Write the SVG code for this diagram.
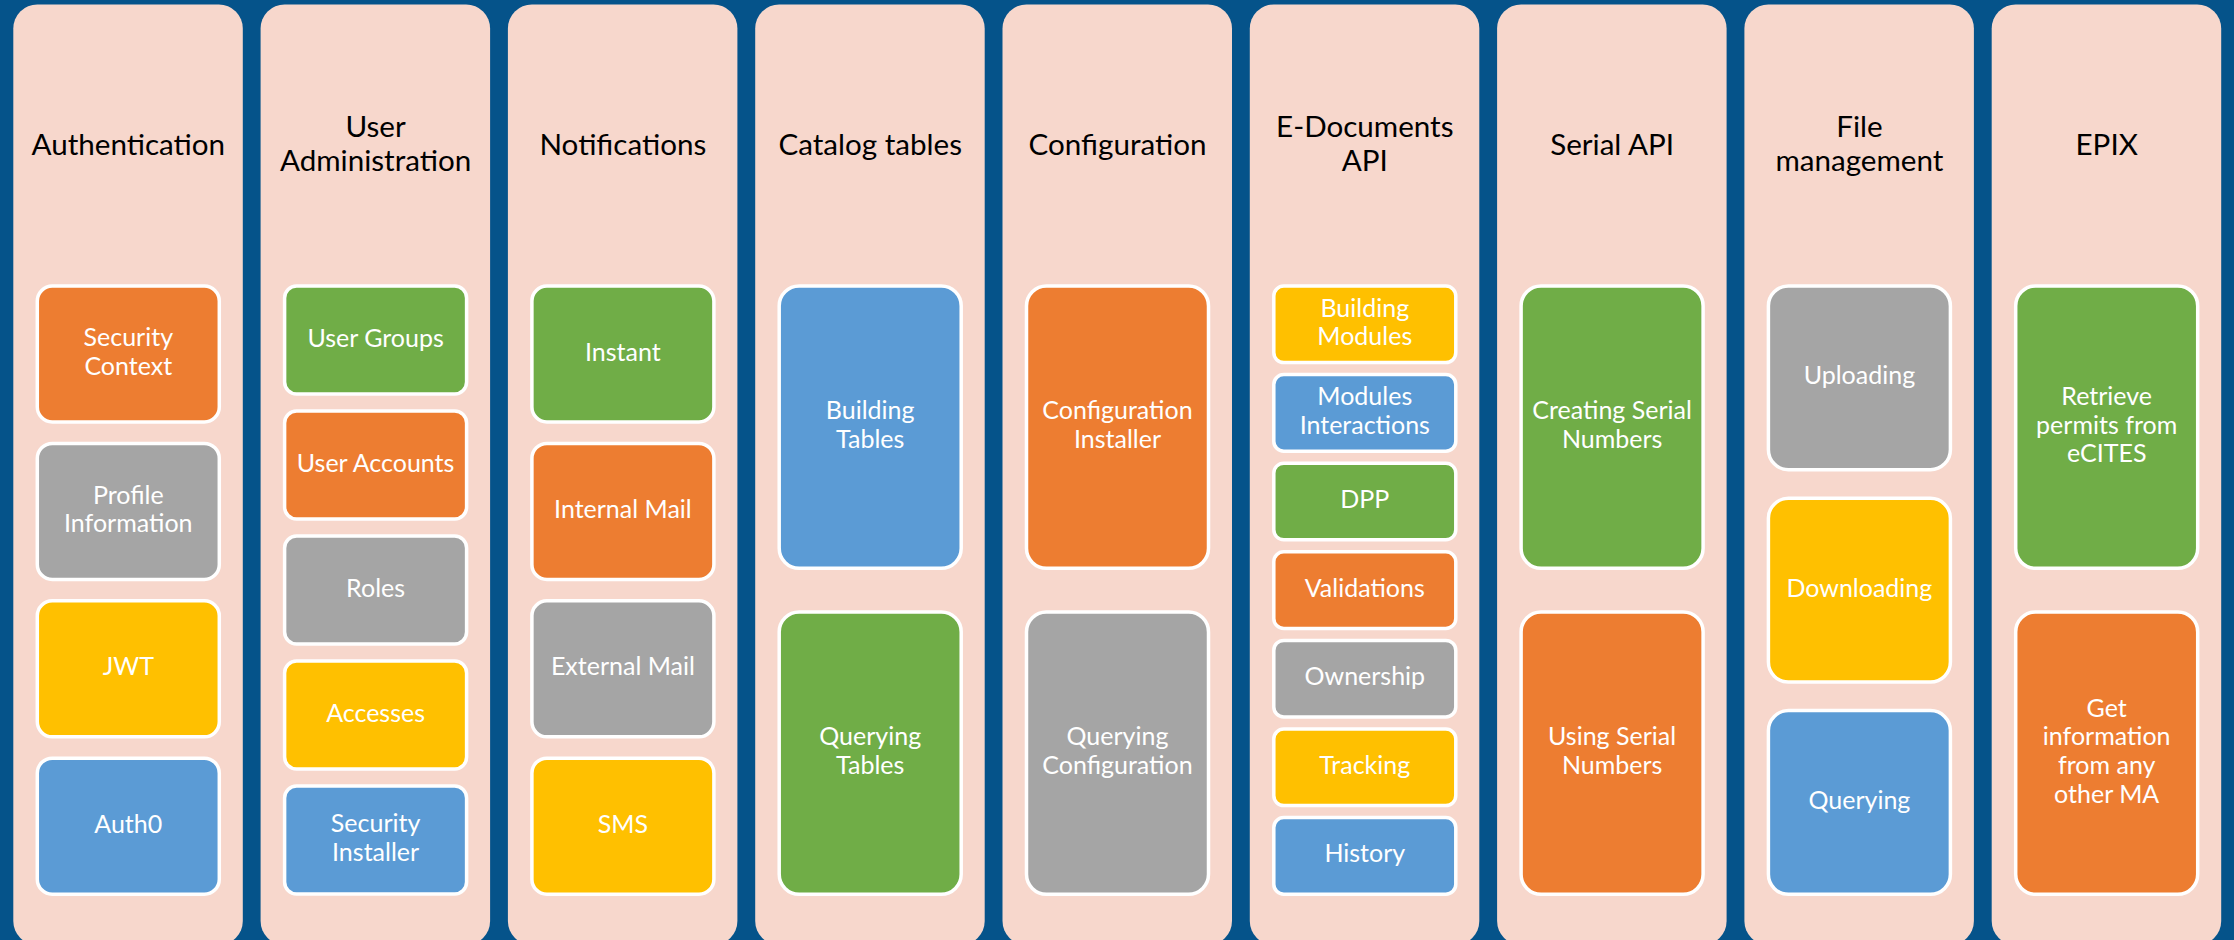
<svg xmlns="http://www.w3.org/2000/svg" width="2234" height="940" viewBox="0 0 2234 940">
<style>
.bg{fill:#05538A}
.col{fill:#F7D7CC}
.hd{font-family:Lato,"Open Sans",sans-serif;font-size:29.6px;fill:#000;text-anchor:middle}
.bx{stroke:#FFFFFF;stroke-width:3.5}
.bt{font-family:Lato,"Open Sans",sans-serif;font-size:25px;fill:#FFFFFF;text-anchor:middle}
.or{fill:#ED7D31}.gy{fill:#A5A5A5}.ye{fill:#FFC000}.bl{fill:#5B9BD5}.gr{fill:#70AD47}
</style>
<rect class="bg" x="0" y="0" width="2234" height="940"/>
<g id="connectors"/>

<g id="col-authentication">
<rect class="col" x="13.3" y="4.5" width="229.5" height="940.5" rx="24"/>
<text class="hd" x="128.3" y="155">Authentication</text>
</g>
<g id="n-security-context"><rect class="bx or" x="37.3" y="286" width="182" height="136" rx="15"/><text class="bt"><tspan x="128.3" y="346.2">Security</tspan><tspan x="128.3" y="374.9">Context</tspan></text></g>
<g id="n-profile-information"><rect class="bx gy" x="37.3" y="443.4" width="182" height="136" rx="15"/><text class="bt"><tspan x="128.3" y="503.5">Profile</tspan><tspan x="128.3" y="532.3">Information</tspan></text></g>
<g id="n-jwt"><rect class="bx ye" x="37.3" y="600.8" width="182" height="136" rx="15"/><text class="bt" x="128.3" y="675.3">JWT</text></g>
<g id="n-auth0"><rect class="bx bl" x="37.3" y="758.2" width="182" height="136" rx="15"/><text class="bt" x="128.3" y="832.7">Auth0</text></g>

<g id="col-user-administration">
<rect class="col" x="260.6" y="4.5" width="229.5" height="940.5" rx="24"/>
<text class="hd"><tspan x="375.6" y="136.7">User</tspan><tspan x="375.6" y="170.7">Administration</tspan></text>
</g>
<g id="n-user-groups"><rect class="bx gr" x="284.6" y="286" width="182" height="108" rx="12"/><text class="bt" x="375.6" y="346.5">User Groups</text></g>
<g id="n-user-accounts"><rect class="bx or" x="284.6" y="411" width="182" height="108" rx="12"/><text class="bt" x="375.6" y="471.5">User Accounts</text></g>
<g id="n-roles"><rect class="bx gy" x="284.6" y="536" width="182" height="108" rx="12"/><text class="bt" x="375.6" y="596.5">Roles</text></g>
<g id="n-accesses"><rect class="bx ye" x="284.6" y="661" width="182" height="108" rx="12"/><text class="bt" x="375.6" y="721.5">Accesses</text></g>
<g id="n-security-installer"><rect class="bx bl" x="284.6" y="786" width="182" height="108" rx="12"/><text class="bt"><tspan x="375.6" y="832.2">Security</tspan><tspan x="375.6" y="860.9">Installer</tspan></text></g>

<g id="col-notifications">
<rect class="col" x="507.9" y="4.5" width="229.5" height="940.5" rx="24"/>
<text class="hd" x="622.9" y="155">Notifications</text>
</g>
<g id="n-instant"><rect class="bx gr" x="531.9" y="286" width="182" height="136" rx="15"/><text class="bt" x="622.9" y="360.5">Instant</text></g>
<g id="n-internal-mail"><rect class="bx or" x="531.9" y="443.4" width="182" height="136" rx="15"/><text class="bt" x="622.9" y="517.9">Internal Mail</text></g>
<g id="n-external-mail"><rect class="bx gy" x="531.9" y="600.8" width="182" height="136" rx="15"/><text class="bt" x="622.9" y="675.3">External Mail</text></g>
<g id="n-sms"><rect class="bx ye" x="531.9" y="758.2" width="182" height="136" rx="15"/><text class="bt" x="622.9" y="832.7">SMS</text></g>

<g id="col-catalog-tables">
<rect class="col" x="755.2" y="4.5" width="229.5" height="940.5" rx="24"/>
<text class="hd" x="870.2" y="155">Catalog tables</text>
</g>
<g id="n-building-tables"><rect class="bx bl" x="779.2" y="286" width="182" height="282.3" rx="20"/><text class="bt"><tspan x="870.2" y="419.3">Building</tspan><tspan x="870.2" y="448">Tables</tspan></text></g>
<g id="n-querying-tables"><rect class="bx gr" x="779.2" y="612" width="182" height="282.3" rx="20"/><text class="bt"><tspan x="870.2" y="745.3">Querying</tspan><tspan x="870.2" y="774">Tables</tspan></text></g>

<g id="col-configuration">
<rect class="col" x="1002.5" y="4.5" width="229.5" height="940.5" rx="24"/>
<text class="hd" x="1117.5" y="155">Configuration</text>
</g>
<g id="n-configuration-installer"><rect class="bx or" x="1026.5" y="286" width="182" height="282.3" rx="20"/><text class="bt"><tspan x="1117.5" y="419.3">Configuration</tspan><tspan x="1117.5" y="448">Installer</tspan></text></g>
<g id="n-querying-configuration"><rect class="bx gy" x="1026.5" y="612" width="182" height="282.3" rx="20"/><text class="bt"><tspan x="1117.5" y="745.3">Querying</tspan><tspan x="1117.5" y="774">Configuration</tspan></text></g>

<g id="col-edocuments-api">
<rect class="col" x="1249.8" y="4.5" width="229.5" height="940.5" rx="24"/>
<text class="hd"><tspan x="1364.8" y="136.7">E-Documents</tspan><tspan x="1364.8" y="170.7">API</tspan></text>
</g>
<g id="n-building-modules"><rect class="bx ye" x="1273.8" y="286" width="182" height="76.6" rx="10"/><text class="bt"><tspan x="1364.8" y="316.5">Building</tspan><tspan x="1364.8" y="345.2">Modules</tspan></text></g>
<g id="n-modules-interactions"><rect class="bx bl" x="1273.8" y="374.6" width="182" height="76.6" rx="10"/><text class="bt"><tspan x="1364.8" y="405.1">Modules</tspan><tspan x="1364.8" y="433.8">Interactions</tspan></text></g>
<g id="n-dpp"><rect class="bx gr" x="1273.8" y="463.2" width="182" height="76.6" rx="10"/><text class="bt" x="1364.8" y="508">DPP</text></g>
<g id="n-validations"><rect class="bx or" x="1273.8" y="551.8" width="182" height="76.6" rx="10"/><text class="bt" x="1364.8" y="596.6">Validations</text></g>
<g id="n-ownership"><rect class="bx gy" x="1273.8" y="640.4" width="182" height="76.6" rx="10"/><text class="bt" x="1364.8" y="685.2">Ownership</text></g>
<g id="n-tracking"><rect class="bx ye" x="1273.8" y="729" width="182" height="76.6" rx="10"/><text class="bt" x="1364.8" y="773.8">Tracking</text></g>
<g id="n-history"><rect class="bx bl" x="1273.8" y="817.6" width="182" height="76.6" rx="10"/><text class="bt" x="1364.8" y="862.4">History</text></g>

<g id="col-serial-api">
<rect class="col" x="1497.1" y="4.5" width="229.5" height="940.5" rx="24"/>
<text class="hd" x="1612.1" y="155">Serial API</text>
</g>
<g id="n-creating-serial-numbers"><rect class="bx gr" x="1521.1" y="286" width="182" height="282.3" rx="20"/><text class="bt"><tspan x="1612.1" y="419.3">Creating Serial</tspan><tspan x="1612.1" y="448">Numbers</tspan></text></g>
<g id="n-using-serial-numbers"><rect class="bx or" x="1521.1" y="612" width="182" height="282.3" rx="20"/><text class="bt"><tspan x="1612.1" y="745.3">Using Serial</tspan><tspan x="1612.1" y="774">Numbers</tspan></text></g>

<g id="col-file-management">
<rect class="col" x="1744.4" y="4.5" width="229.5" height="940.5" rx="24"/>
<text class="hd"><tspan x="1859.4" y="136.7">File</tspan><tspan x="1859.4" y="170.7">management</tspan></text>
</g>
<g id="n-uploading"><rect class="bx gy" x="1768.4" y="286" width="182" height="183.7" rx="20"/><text class="bt" x="1859.4" y="384.4">Uploading</text></g>
<g id="n-downloading"><rect class="bx ye" x="1768.4" y="498.3" width="182" height="183.7" rx="20"/><text class="bt" x="1859.4" y="596.7">Downloading</text></g>
<g id="n-querying"><rect class="bx bl" x="1768.4" y="710.6" width="182" height="183.7" rx="20"/><text class="bt" x="1859.4" y="809">Querying</text></g>

<g id="col-epix">
<rect class="col" x="1991.7" y="4.5" width="229.5" height="940.5" rx="24"/>
<text class="hd" x="2106.7" y="155">EPIX</text>
</g>
<g id="n-retrieve-permits"><rect class="bx gr" x="2015.7" y="286" width="182" height="282.3" rx="20"/><text class="bt"><tspan x="2106.7" y="405">Retrieve</tspan><tspan x="2106.7" y="433.7">permits from</tspan><tspan x="2106.7" y="462.4">eCITES</tspan></text></g>
<g id="n-get-information"><rect class="bx or" x="2015.7" y="612" width="182" height="282.3" rx="20"/><text class="bt"><tspan x="2106.7" y="716.6">Get</tspan><tspan x="2106.7" y="745.3">information</tspan><tspan x="2106.7" y="774">from any</tspan><tspan x="2106.7" y="802.7">other MA</tspan></text></g>
</svg>
